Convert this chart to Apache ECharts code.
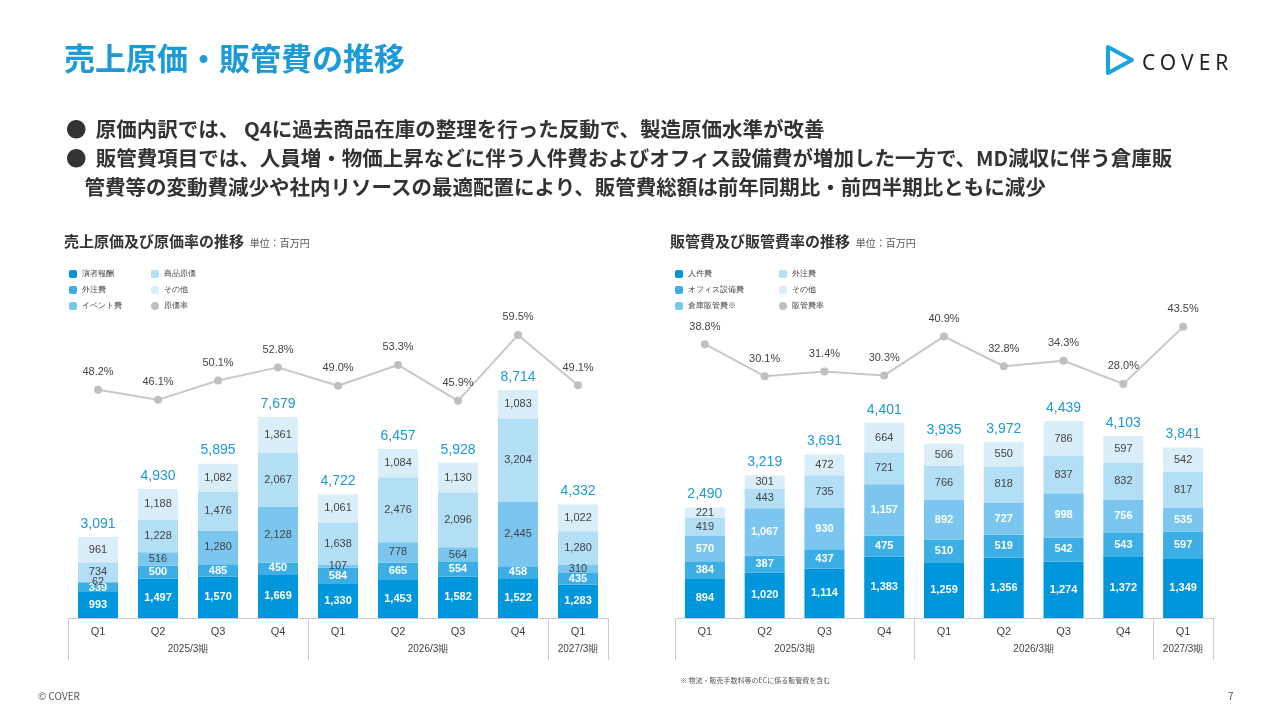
<!DOCTYPE html>
<html><head><meta charset="utf-8">
<script src="https://cdn.jsdelivr.net/npm/echarts@6/dist/echarts.min.js"></script>
<style>
body{margin:0;width:1280px;height:720px;position:relative;font-family:"Noto Sans CJK JP","Noto Sans",sans-serif;background:#fff;overflow:hidden}
#c{position:absolute;left:0;top:0;width:1280px;height:720px}
.t{position:absolute;white-space:nowrap}
</style></head><body>
<div id="c"></div>
<div class="t" style="left:64px;top:34px;font-size:31px;font-weight:bold;color:#1a9ad6">売上原価・販管費の推移</div>
<div class="t" style="left:1104px;top:44px;">
<svg width="32" height="32" viewBox="0 0 32 32"><path d="M4 3 L28 16 L4 29 Z" fill="none" stroke="#1aa3dc" stroke-width="4" stroke-linejoin="round"/></svg></div>
<div class="t" style="left:1142px;top:48px;font-size:21px;letter-spacing:5px;color:#222;font-family:'Noto Sans'">COVER</div>
<div class="t" style="left:66px;top:114px;font-size:20.5px;font-weight:bold;color:#333;line-height:29px">●&nbsp;&nbsp;原価内訳では、 Q4に過去商品在庫の整理を行った反動で、製造原価水準が改善<br>●&nbsp;&nbsp;販管費項目では、人員増・物価上昇などに伴う人件費およびオフィス設備費が増加した一方で、MD減収に伴う倉庫販<br><span style="line-height:24px">&nbsp;&nbsp;&nbsp;&nbsp;管費等の変動費減少や社内リソースの最適配置により、販管費総額は前年同期比・前四半期比ともに減少</span></div>
<div class="t" style="left:64px;top:230px;font-size:15px;font-weight:bold;color:#333">売上原価及び原価率の推移 <span style="font-size:10px;font-weight:normal;color:#555">&nbsp;単位：百万円</span></div>
<div class="t" style="left:670px;top:230px;font-size:15px;font-weight:bold;color:#333">販管費及び販管費率の推移 <span style="font-size:10px;font-weight:normal;color:#555">&nbsp;単位：百万円</span></div>
<div class="t" style="left:680px;top:675px;font-size:7px;color:#555">※ 物流・販売手数料等のECに係る販管費を含む</div>
<div class="t" style="left:38px;top:688px;font-size:10px;color:#555">© COVER</div>
<div class="t" style="left:1228px;top:688px;font-size:10px;color:#555">7</div>
<script>
const categories=['Q1','Q2','Q3','Q4','Q1','Q2','Q3','Q4','Q1'];
const yearLabels={2:'2025/3期',6:'2026/3期',8.5:'2027/3期'};
// left chart
const L_names=['演者報酬','外注費','イベント費','商品原価','その他'];
const L_perf=[993,1497,1570,1669,1330,1453,1582,1522,1283];
const L_out=[339,500,485,450,584,665,554,458,435];
const L_event=[62,516,1280,2128,107,778,564,2445,310];
const L_goods=[734,1228,1476,2067,1638,2476,2096,3204,1280];
const L_other=[961,1188,1082,1361,1061,1084,1130,1083,1022];
const L_total=[3091,4930,5895,7679,4722,6457,5928,8714,4332];
const L_rate=[48.2,46.1,50.1,52.8,49.0,53.3,45.9,59.5,49.1];
// right chart
const R_names=['人件費','オフィス設備費','倉庫販管費※','外注費\u200b','その他\u200b'];
const R_staff=[894,1020,1114,1383,1259,1356,1274,1372,1349];
const R_office=[384,387,437,475,510,519,542,543,597];
const R_ware=[570,1067,930,1157,892,727,998,756,535];
const R_out=[419,443,735,721,766,818,837,832,817];
const R_other=[221,301,472,664,506,550,786,597,542];
const R_total=[2490,3219,3691,4401,3935,3972,4439,4103,3841];
const R_rate=[38.8,30.1,31.4,30.3,40.9,32.8,34.3,28.0,43.5];

const colors=['#0096dc','#3caee6','#7ac6ef','#b2def6','#daeefa'];
const fmt=v=>v.toLocaleString('en-US');
function bars(names,arrs,gi,stack,whiteN){
  return arrs.map((d,i)=>({type:'bar',name:names[i],stack:stack,xAxisIndex:gi*2,yAxisIndex:gi*2,barWidth:40,
    data:d,itemStyle:{color:colors[i]},
    label:{show:true,formatter:p=>fmt(p.value),fontSize:11,color:i<whiteN?'#fff':'#444',fontWeight:i<whiteN?'bold':'normal'}}));
}
function total(t,gi,stack){
  return {type:'bar',name:'tot'+gi,stack:stack,xAxisIndex:gi*2,yAxisIndex:gi*2,barWidth:40,data:t.map(()=>0),
    label:{show:true,position:'top',distance:6,formatter:p=>fmt(t[p.dataIndex]),fontSize:14,color:'#1a9ad6'}};
}
function line(name,d,gi){
  return {type:'line',name:name,xAxisIndex:gi*2,yAxisIndex:gi*2+1,data:d,symbol:'circle',symbolSize:8,
    itemStyle:{color:'#bfbfbf'},lineStyle:{color:'#c8c8c8',width:2},
    label:{show:true,position:'top',distance:8,formatter:p=>p.value.toFixed(1)+'%',fontSize:11,color:'#444'}};
}
const gridL={left:68,width:540,top:300,height:318};
const gridR={left:675,width:538,top:300,height:318};
function xAxes(gi){
  return [{type:'category',gridIndex:gi,data:categories,axisLine:{onZero:false,lineStyle:{color:'#ccc'}},axisTick:{show:false},
      axisLabel:{color:'#444',fontSize:11,margin:8}},
    {type:'value',gridIndex:gi,position:'bottom',min:0,max:9,axisLine:{show:false,onZero:false},
      axisTick:{show:true,customValues:[0,4,8,9],length:42,lineStyle:{color:'#ccc'}},
      splitLine:{show:false},
      axisLabel:{customValues:[2,6,8.5],formatter:v=>yearLabels[v],color:'#444',fontSize:10,margin:26}}];
}
const ch=echarts.init(document.getElementById('c'));
ch.setOption({animation:false,
  grid:[gridL,gridR],
  xAxis:[...xAxes(0),...xAxes(1)],
  yAxis:[{gridIndex:0,min:0,max:12140,show:false},{gridIndex:0,min:1.1,max:66.7,show:false},
         {gridIndex:1,min:0,max:7166,show:false},{gridIndex:1,min:-35.6,max:50.8,show:false}],
  legend:[
    {left:64,top:265,orient:'vertical',itemWidth:8,itemHeight:8,itemGap:8,textStyle:{fontSize:8,color:'#444'},data:L_names.slice(0,3)},
    {left:146,top:265,orient:'vertical',itemWidth:8,itemHeight:8,itemGap:8,textStyle:{fontSize:8,color:'#444'},data:[L_names[3],L_names[4],{name:'原価率',icon:'circle'}]},
    {left:670,top:265,orient:'vertical',itemWidth:8,itemHeight:8,itemGap:8,textStyle:{fontSize:8,color:'#444'},data:R_names.slice(0,3)},
    {left:774,top:265,orient:'vertical',itemWidth:8,itemHeight:8,itemGap:8,textStyle:{fontSize:8,color:'#444'},data:[R_names[3],R_names[4],{name:'販管費率',icon:'circle'}]}
  ],
  series:[...bars(L_names,[L_perf,L_out,L_event,L_goods,L_other],0,'L',2),total(L_total,0,'L'),line('原価率',L_rate,0),
          ...bars(R_names,[R_staff,R_office,R_ware,R_out,R_other],1,'R',3),total(R_total,1,'R'),line('販管費率',R_rate,1)]
});
</script>
</body></html>
